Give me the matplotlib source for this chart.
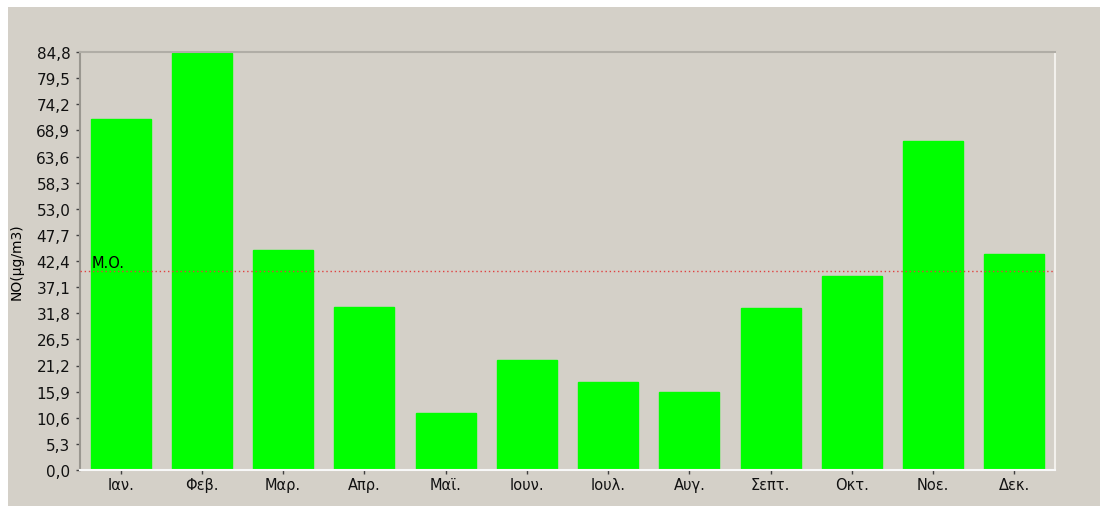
import matplotlib.pyplot as plt
import numpy as np
from matplotlib.patches import Rectangle

# Μηνιαίες τιμές NO
months = ['Ιαν.', 'Φεβ.', 'Μαρ.', 'Απρ.', 'Μαϊ.', 'Ιουν.', 'Ιουλ.', 'Αυγ.',
          'Σεπτ.', 'Οκτ.', 'Νοε.', 'Δεκ.']
no_values = [71.3, 84.5, 44.6, 33.1, 11.6, 22.3, 17.8, 15.8, 32.9, 39.4, 66.7, 43.8]
yticks = [0.0, 5.3, 10.6, 15.9, 21.2, 26.5, 31.8, 37.1, 42.4, 47.7, 53.0,
          58.3, 63.6, 68.9, 74.2, 79.5, 84.8]

bg = '#d4d0c8'
plt.rcParams['font.family'] = ['DejaVu Sans']

fig = plt.figure(figsize=(11.05, 5.10), dpi=100)
fig.patch.set_facecolor('white')
# γκρι πλαίσιο με λευκό περιθώριο
fig.patches.append(Rectangle((8 / 1105, 3 / 510), 1092 / 1105, 499 / 510,
                             transform=fig.transFigure, facecolor=bg,
                             edgecolor='none', zorder=-10))

ax = fig.add_axes([80 / 1105, 39 / 510, 975 / 1105, 418 / 510])
ax.set_facecolor(bg)

x = np.arange(len(months))
ax.bar(x, no_values, width=0.74, color='#00ff00', edgecolor='#00ff00', zorder=2)

mean = np.mean(no_values)
ax.axhline(mean, color='#e04040', linestyle=(0, (1, 2)), linewidth=1, zorder=3)
ax.text(0.012, mean + 0.2, 'M.O.', transform=ax.get_yaxis_transform(),
        fontsize=10.5, va='bottom', ha='left', zorder=4)

ax.set_xlim(-0.5, 11.5)
ax.set_ylim(0, 84.8)
ax.set_xticks(x)
ax.set_xticklabels(months, fontsize=10.5, color='#111111')
ax.set_yticks(yticks)
ax.set_yticklabels([f'{v:.1f}'.replace('.', ',') for v in yticks],
                   fontsize=11, color='#111111')
ax.tick_params(axis='both', length=3, width=1, color='#404040')
ax.tick_params(axis='x', pad=2)
ax.tick_params(axis='y', pad=4)

ax.spines['top'].set_color('#b0ada6')
ax.spines['left'].set_color('#9a9790')
ax.spines['right'].set_color('#f2f0ec')
ax.spines['bottom'].set_color('#f8f8f8')
for s in ax.spines.values():
    s.set_linewidth(1.5)

ax.set_ylabel('NO(μg/m3)', fontsize=10)
ax.yaxis.set_label_coords(-0.058, 0.5)

fig.savefig('out.png', dpi=100, facecolor=fig.get_facecolor())
